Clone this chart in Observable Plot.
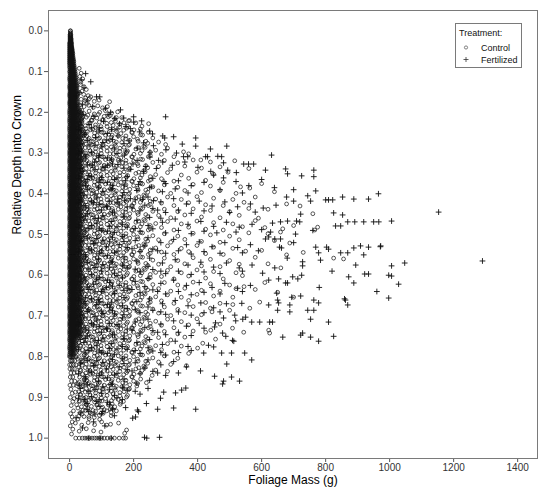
<!DOCTYPE html>
<html>
<head>
<meta charset="utf-8">
<script src="https://cdn.jsdelivr.net/npm/d3@7"></script>
<script src="https://cdn.jsdelivr.net/npm/@observablehq/plot@0.6"></script>
<style>
  html, body { margin: 0; padding: 0; background: white; }
  #wrap { position: relative; width: 550px; height: 496px; }
  #legend { position: absolute; left: 0; top: 0; }
</style>
</head>
<body>
<div id="wrap"></div>
<script>
const xTicks = [0, 200, 400, 600, 800, 1000, 1200, 1400];
const yTicks = [0, 0.1, 0.2, 0.3, 0.4, 0.5, 0.6, 0.7, 0.8, 0.9, 1.0];
const treatments = ["Control", "Fertilized"];

// Control: near-zero-mass stem column, read as mass spreads per depth
const stemA = [0,2,4,6,8,10,12,14,16,19,22,26,30,35];
const stemB = [1,3,5,7,9,11,13,15,18,21,24,28,33];
const stemC = [0,3,6,9,12,15,18,22,27,32,38];
const controlStem = [
[0.00,[2,3]],[0.005,[2,3]],[0.01,[1,2,3,4]],[0.015,[1,2,3,4]],[0.02,[1,2,3,4,5]],[0.025,[1,2,3,4,5]],[0.03,[0,1,2,3,4,5,6]],[0.035,[0,1,2,3,4,5,6]],[0.04,[0,1,2,3,4,5,6,7]],
[0.045,[0,1,2,3,4,5,6,7,8]],[0.05,[0,1,2,3,4,5,6,7,9]],[0.055,[0,1,2,3,4,5,6,8,10]],[0.06,[0,1,2,3,4,5,6,7,8,10]],[0.065,[0,1,2,3,4,5,7,9,11]],[0.07,[0,1,2,3,4,5,6,8,10,12]],
[0.075,[0,1,2,3,5,7,9,11,13]],[0.08,[0,1,2,4,5,6,8,10,13]],[0.085,[0,2,4,6,8,10,12,14]],[0.09,[0,2,4,6,8,10,12,15]],[0.095,[1,3,5,7,9,11,13,16]],[0.10,[0,2,4,6,8,10,12,14,17]],
[0.105,[1,3,5,7,9,11,13,15,18]],[0.11,[1,3,5,7,9,11,13,15,18]],[0.115,[0,2,4,6,8,10,12,14,17,20]],[0.12,[0,2,4,6,8,10,12,14,17,20]],[0.125,[1,3,5,7,9,11,13,15,18,21]],[0.13,[1,3,5,7,9,11,13,15,18,21]],
[0.135,[0,2,4,6,8,10,12,14,17,20,23]],[0.14,[0,2,4,6,8,10,12,14,17,20,23]],[0.145,[1,3,5,7,9,11,13,16,19,22]],[0.15,[1,3,5,7,9,11,13,16,19,22]],[0.155,[0,2,4,6,8,10,12,14,17,21,24]],[0.16,[0,2,4,6,8,10,12,14,17,21,24]],
[0.165,[1,3,5,7,9,11,13,16,19,23]],[0.17,[1,3,5,7,9,11,13,16,19,23]],[0.175,[0,2,4,6,8,10,12,14,17,21,25]],[0.18,[0,2,4,6,8,10,12,14,17,21,25]],[0.185,[1,3,5,7,9,11,13,16,19,23,27]],[0.19,[1,3,5,7,9,11,13,16,19,23,27]],[0.195,stemC],
[0.20,stemA],[0.205,stemC],[0.21,stemB],[0.215,stemC],[0.22,stemA],[0.225,stemC],[0.23,stemB],[0.235,stemC],[0.24,stemA],[0.245,stemC],
[0.25,stemB],[0.255,stemC],[0.26,stemA],[0.265,stemC],[0.27,stemB],[0.275,stemC],[0.28,stemA],[0.285,stemC],[0.29,stemB],[0.295,stemC],
[0.30,stemA],[0.305,stemC],[0.31,stemB],[0.315,stemC],[0.32,stemA],[0.325,stemC],[0.33,stemB],[0.335,stemC],[0.34,stemA],[0.345,stemC],
[0.35,stemB],[0.355,stemC],[0.36,stemA],[0.365,stemC],[0.37,stemB],[0.375,stemC],[0.38,stemA],[0.385,stemC],[0.39,stemB],[0.395,stemC],
[0.40,stemA],[0.405,stemC],[0.41,stemB],[0.415,stemC],[0.42,stemA],[0.425,stemC],[0.43,stemB],[0.435,stemC],[0.44,stemA],[0.445,stemC],
[0.45,stemB],[0.455,stemC],[0.46,stemA],[0.465,stemC],[0.47,stemB],[0.475,stemC],[0.48,stemA],[0.485,stemC],[0.49,stemB],[0.495,stemC],
[0.50,stemA],[0.505,stemC],[0.51,stemB],[0.515,stemC],[0.52,stemA],[0.525,stemC],[0.53,stemB],[0.535,stemC],[0.54,stemA],[0.545,stemC],
[0.55,stemB],[0.555,stemC],[0.56,stemA],[0.565,stemC],[0.57,stemB],[0.575,stemC],[0.58,stemA],[0.585,stemC],[0.59,stemB],[0.595,stemC],
[0.60,stemA],[0.605,stemC],[0.61,stemB],[0.615,stemC],[0.62,stemA],[0.625,stemC],[0.63,stemB],[0.635,stemC],[0.64,stemA],[0.645,stemC],
[0.65,stemB],[0.655,stemC],[0.66,stemA],[0.665,stemC],[0.67,stemB],[0.675,stemC],[0.68,stemA],[0.685,stemC],[0.69,stemB],[0.695,stemC],
[0.70,stemA],[0.705,stemC],[0.71,stemB],[0.715,stemC],[0.72,stemA],[0.725,stemC],[0.73,stemB],[0.735,stemC],[0.74,stemA],[0.745,stemC],[0.75,stemB],
[0.755,[0,3,6,9,13,18,24]],[0.76,[0,2,4,6,8,10,13,17,22]],[0.765,[1,4,7,11,15,20]],[0.77,[1,3,5,7,9,12,15,20]],[0.775,[0,3,6,10,14,19]],
[0.78,[0,2,4,6,9,12,16,21]],[0.785,[1,4,8,12,17]],[0.79,[1,3,5,8,11,15,19]],[0.795,[0,4,9,14]],
[0.80,[0,2,5,8,11,15,20]],[0.81,[2,6,9,16]],[0.82,[0,5,12,20]],[0.83,[1,8,15]],[0.84,[4,14]],[0.85,[2,10]],[0.86,[6,16]],
[0.87,[1,12]],[0.88,[4]],[0.89,[8]],[0.90,[2]],[0.91,[10]],[0.92,[5]],[0.94,[3]],[0.96,[8]],[0.97,[2]],[0.99,[6]]
];

// Control: main cloud — [mass g, relative depth]
const controlCloud = [
[30,.092],[36,.104],[32,.112],[41,.118],[35,.126],[34,.132],[45,.137],[52,.144],[39,.148],
[31,.152],[44,.156],[58,.159],[66,.162],[50,.165],[36,.168],[48,.171],[62,.166],[77,.173],[92,.17],[125,.174],[55,.178],
[32,.182],[45,.186],[60,.183],[74,.188],[88,.184],[103,.189],[118,.186],
[30,.198],[45,.203],[61,.197],[77,.204],[94,.2],[112,.196],[131,.202],[150,.199],
[37,.217],[52,.212],[68,.219],[85,.214],[103,.218],[121,.211],[141,.216],[163,.213],[187,.22],
[33,.228],[49,.233],[64,.226],[81,.231],[98,.235],[116,.227],[136,.232],[157,.229],[181,.234],[207,.226],[247,.228],
[40,.243],[55,.248],[72,.241],[89,.246],[107,.25],[126,.242],[147,.247],[169,.244],[194,.249],[221,.241],
[30,.262],[45,.257],[61,.264],[77,.259],[94,.263],[112,.256],[131,.261],[152,.258],[175,.265],[200,.26],[228,.256],[260,.263],
[37,.273],[52,.278],[68,.271],[85,.276],[103,.28],[121,.272],[141,.277],[163,.274],[187,.279],[214,.271],[244,.276],[278,.273],[300,.279],
[33,.292],[49,.287],[64,.294],[81,.289],[98,.293],[116,.286],[136,.291],[157,.288],[181,.295],[207,.29],[236,.286],[269,.293],[306,.288],[356,.297],
[40,.303],[55,.308],[72,.301],[89,.306],[107,.31],[126,.302],[147,.307],[169,.304],[194,.309],[221,.301],[252,.306],[287,.303],[326,.309],[372,.302],[410,.317],
[30,.322],[45,.317],[61,.324],[77,.319],[94,.323],[112,.316],[131,.321],[152,.318],[175,.325],[200,.32],[228,.316],[260,.323],[296,.318],[338,.324],[386,.317],[440,.322],[516,.319],
[37,.333],[52,.338],[68,.331],[85,.336],[103,.34],[121,.332],[141,.337],[163,.334],[187,.339],[214,.331],[244,.336],[278,.333],[316,.339],[360,.332],[412,.337],[470,.334],[560,.338],
[33,.352],[49,.347],[64,.354],[81,.349],[98,.353],[116,.346],[136,.351],[157,.348],[181,.355],[207,.35],[236,.346],[269,.353],[306,.348],[349,.354],[398,.347],[450,.352],[495,.347],
[40,.363],[55,.368],[72,.361],[89,.366],[107,.37],[126,.362],[147,.367],[169,.364],[194,.369],[221,.361],[252,.366],[287,.363],[326,.369],[372,.362],[425,.367],[480,.372],[600,.375],
[30,.382],[45,.377],[61,.384],[77,.379],[94,.383],[112,.376],[131,.381],[152,.378],[175,.385],[200,.38],[228,.376],[260,.383],[296,.378],[338,.384],[386,.377],[440,.381],[534,.383],[563,.386],
[37,.393],[52,.398],[68,.391],[85,.396],[103,.4],[121,.392],[141,.397],[163,.394],[187,.399],[214,.391],[244,.396],[278,.393],[316,.399],[360,.392],[412,.397],[470,.392],[520,.399],[640,.395],
[33,.412],[49,.407],[64,.414],[81,.409],[98,.413],[116,.406],[136,.411],[157,.408],[181,.415],[207,.41],[236,.406],[269,.413],[306,.408],[349,.414],[398,.407],[450,.411],[510,.414],[580,.408],
[40,.423],[55,.428],[72,.421],[89,.426],[107,.43],[126,.422],[147,.427],[169,.424],[194,.429],[221,.421],[252,.426],[287,.423],[326,.429],[372,.422],[425,.427],[480,.429],[545,.421],[678,.425],[720,.43],
[30,.442],[45,.437],[61,.444],[77,.439],[94,.443],[112,.436],[131,.441],[152,.438],[175,.445],[200,.44],[228,.436],[260,.443],[296,.438],[338,.444],[386,.437],[440,.441],[500,.444],[560,.436],[620,.438],
[37,.453],[52,.458],[68,.451],[85,.456],[103,.46],[121,.452],[141,.457],[163,.454],[187,.459],[214,.451],[244,.456],[278,.453],[316,.459],[360,.452],[412,.457],[470,.459],[530,.453],[590,.46],[760,.449],
[33,.472],[49,.467],[64,.474],[81,.469],[98,.473],[116,.466],[136,.471],[157,.468],[181,.475],[207,.47],[236,.466],[269,.473],[306,.468],[349,.474],[398,.467],[450,.471],[510,.474],[580,.466],[700,.478],
[40,.483],[55,.488],[72,.481],[89,.486],[107,.49],[126,.482],[147,.487],[169,.484],[194,.489],[221,.481],[252,.486],[287,.483],[326,.489],[372,.482],[425,.487],[480,.489],[540,.481],[610,.483],[666,.486],[659,.494],[766,.489],[775,.482],
[30,.502],[45,.497],[61,.504],[77,.499],[94,.503],[112,.496],[131,.501],[152,.498],[175,.505],[200,.5],[228,.496],[260,.503],[296,.498],[338,.504],[386,.497],[440,.501],[500,.504],[560,.496],[620,.498],
[37,.513],[52,.518],[68,.511],[85,.516],[103,.52],[121,.512],[141,.517],[163,.514],[187,.519],[214,.511],[244,.516],[278,.513],[316,.519],[360,.512],[412,.517],[470,.519],[530,.513],[640,.515],[688,.521],
[33,.532],[49,.527],[64,.534],[81,.529],[98,.533],[116,.526],[136,.531],[157,.528],[181,.535],[207,.53],[236,.526],[269,.533],[306,.528],[349,.534],[398,.527],[450,.531],[510,.534],[600,.539],
[40,.543],[55,.548],[72,.541],[89,.546],[107,.55],[126,.542],[147,.547],[169,.544],[194,.549],[221,.541],[252,.546],[287,.543],[326,.549],[372,.542],[425,.547],[480,.549],[550,.541],[678,.55],[730,.544],
[30,.562],[45,.557],[61,.564],[77,.559],[94,.563],[112,.556],[131,.561],[152,.558],[175,.565],[200,.56],[228,.556],[260,.563],[296,.558],[338,.564],[386,.557],[440,.561],[500,.564],[580,.556],[825,.558],[856,.56],
[37,.573],[52,.578],[68,.571],[85,.576],[103,.58],[121,.572],[141,.577],[163,.574],[187,.579],[214,.571],[244,.576],[278,.573],[316,.579],[360,.572],[412,.577],[470,.579],[530,.573],[620,.572],
[33,.592],[49,.587],[64,.594],[81,.589],[98,.593],[116,.586],[136,.591],[157,.588],[181,.595],[207,.59],[236,.586],[269,.593],[306,.588],[349,.594],[398,.587],[450,.591],[520,.594],[660,.582],
[40,.603],[55,.608],[72,.601],[89,.606],[107,.61],[126,.602],[147,.607],[169,.604],[194,.609],[221,.601],[252,.606],[287,.603],[326,.609],[372,.602],[425,.607],[480,.609],[540,.601],[610,.618],
[30,.622],[45,.617],[61,.624],[77,.619],[94,.623],[112,.616],[131,.621],[152,.618],[175,.625],[200,.62],[228,.616],[260,.623],[296,.618],[338,.624],[386,.617],[440,.621],[500,.624],[545,.628],
[37,.633],[52,.638],[68,.631],[85,.636],[103,.64],[121,.632],[141,.637],[163,.634],[187,.639],[214,.631],[244,.636],[278,.633],[316,.639],[360,.632],[412,.637],[470,.639],[520,.633],[580,.635],[650,.642],
[33,.652],[49,.647],[64,.654],[81,.649],[98,.653],[116,.646],[136,.651],[157,.648],[181,.655],[207,.65],[236,.646],[269,.653],[306,.648],[349,.654],[398,.647],[450,.651],[510,.654],[594,.666],[700,.654],
[40,.663],[55,.668],[72,.661],[89,.666],[107,.67],[126,.662],[147,.667],[169,.664],[194,.669],[221,.661],[252,.666],[287,.663],[326,.669],[372,.662],[425,.667],[470,.669],[510,.672],
[30,.682],[45,.677],[61,.684],[77,.679],[94,.683],[112,.676],[131,.681],[152,.678],[175,.685],[200,.68],[228,.676],[260,.683],[296,.678],[338,.684],[386,.677],[440,.681],[500,.686],[563,.681],
[37,.693],[52,.698],[68,.691],[85,.696],[103,.7],[121,.692],[141,.697],[163,.694],[187,.699],[214,.691],[244,.696],[278,.693],[316,.699],[360,.692],[412,.697],[445,.69],
[33,.712],[49,.707],[64,.714],[81,.709],[98,.713],[116,.706],[136,.711],[157,.708],[181,.715],[207,.71],[236,.706],[269,.713],[306,.708],[349,.714],[398,.707],[470,.72],
[40,.723],[55,.728],[72,.721],[89,.726],[107,.73],[126,.722],[147,.727],[169,.724],[194,.729],[221,.721],[252,.726],[287,.723],[326,.729],[372,.722],[509,.73],
[30,.742],[45,.737],[61,.744],[77,.739],[94,.743],[112,.736],[131,.741],[152,.738],[175,.745],[200,.74],[228,.736],[260,.743],[296,.738],[338,.744],[386,.737],[425,.74],[441,.735],[544,.74],[622,.735],[625,.742],
[37,.753],[52,.758],[68,.751],[85,.756],[103,.76],[121,.752],[141,.757],[163,.754],[187,.759],[214,.751],[244,.756],[278,.753],[316,.759],[360,.752],[416,.767],[456,.757],
[33,.772],[49,.767],[64,.774],[81,.769],[98,.773],[116,.766],[136,.771],[157,.768],[181,.775],[207,.77],[236,.766],[269,.773],[306,.768],[349,.774],[400,.779],
[40,.783],[55,.788],[72,.781],[89,.786],[107,.79],[126,.782],[147,.787],[169,.784],[194,.789],[221,.781],[252,.786],[287,.783],[326,.789],[372,.792],
[30,.802],[45,.797],[61,.804],[77,.799],[94,.803],[112,.796],[131,.801],[152,.798],[175,.805],[200,.8],[228,.796],[260,.803],[296,.798],[338,.804],
[37,.813],[52,.818],[68,.811],[85,.816],[103,.82],[121,.812],[141,.817],[163,.814],[187,.819],[214,.811],[244,.816],[278,.813],[316,.819],[365,.822],
[33,.832],[49,.827],[64,.834],[81,.829],[98,.833],[116,.826],[136,.831],[157,.828],[181,.835],[207,.83],[236,.826],[269,.833],[306,.836],
[40,.843],[55,.848],[72,.841],[89,.846],[107,.85],[126,.842],[147,.847],[169,.844],[194,.849],[221,.841],[258,.846],
[30,.862],[45,.857],[61,.864],[77,.859],[94,.863],[112,.856],[131,.861],[152,.858],[175,.865],[200,.86],[240,.864],
[22,.871],[37,.873],[52,.878],[68,.871],[85,.876],[103,.88],[121,.872],[141,.877],[163,.874],[187,.879],[210,.872],
[18,.887],[33,.892],[49,.887],[64,.894],[81,.889],[98,.893],[116,.886],[136,.891],[157,.888],[181,.895],
[14,.903],[30,.908],[45,.902],[61,.907],[77,.904],[94,.909],[112,.903],[131,.908],[152,.905],[168,.91],
[22,.918],[37,.923],[52,.917],[68,.922],[85,.919],[103,.924],[121,.918],[141,.923],[158,.917],
[12,.933],[33,.938],[49,.932],[64,.937],[81,.934],[98,.939],[116,.933],[130,.937],
[8,.948],[26,.953],[45,.947],[61,.952],[77,.949],[94,.954],[153,.963],
[18,.963],[38,.968],[58,.962],[78,.967],[100,.96],[116,.968],[128,.966],
[10,.978],[30,.983],[52,.977],[75,.982],[98,.985],[178,.98],[172,.988],
[19,1],[30,1],[40,1],[48,1],[55,1],[62,1],[70,1],[78,1],[85,1],[92,1],[100,1],[108,1],[118,1],[128,1],[140,1],[155,1],[168,1],[175,1]
];

// Control: extra points in the densest part of the cloud — [mass g, relative depth]
const controlDense = [
[26,.206],[42,.211],[57,.207],[73,.212],[90,.205],[108,.21],[127,.208],[146,.213],
[29,.226],[39,.221],[60,.227],[70,.22],[93,.224],[105,.219],[130,.225],[143,.222],[170,.226],[184,.221],
[24,.239],[35,.234],[51,.24],[66,.243],[81,.237],[99,.241],[117,.235],[137,.242],[157,.236],[178,.239],[201,.243],[226,.234],
[31,.25],[47,.255],[53,.258],[78,.251],[86,.257],[101,.249],[122,.254],[133,.256],[160,.252],[176,.258],[196,.25],[222,.255],[246,.249],
[26,.266],[42,.271],[57,.267],[73,.272],[90,.265],[108,.27],[127,.268],[146,.273],[166,.264],[188,.269],[212,.266],[238,.271],
[29,.286],[39,.281],[60,.287],[70,.28],[93,.284],[105,.279],[130,.285],[143,.282],[170,.286],[184,.281],[216,.287],[232,.283],
[24,.299],[35,.294],[51,.3],[66,.303],[81,.297],[99,.301],[117,.295],[137,.302],[157,.296],[178,.299],[201,.303],[226,.294],[252,.298],
[31,.31],[47,.315],[53,.318],[78,.311],[86,.317],[101,.309],[122,.314],[133,.316],[160,.312],[176,.318],[196,.31],[222,.315],[246,.309],
[26,.326],[42,.331],[57,.327],[73,.332],[90,.325],[108,.33],[127,.328],[146,.333],[166,.324],[188,.329],[212,.326],[238,.331],
[29,.346],[39,.341],[60,.347],[70,.34],[93,.344],[105,.339],[130,.345],[143,.342],[170,.346],[184,.341],[216,.347],[232,.343],
[24,.359],[35,.354],[51,.36],[66,.363],[81,.357],[99,.361],[117,.355],[137,.362],[157,.356],[178,.359],[201,.363],[226,.354],[252,.358],
[31,.37],[47,.375],[53,.378],[78,.371],[86,.377],[101,.369],[122,.374],[133,.376],[160,.372],[176,.378],[196,.37],[222,.375],[246,.369],
[26,.386],[42,.391],[57,.387],[73,.392],[90,.385],[108,.39],[127,.388],[146,.393],[166,.384],[188,.389],[212,.386],[238,.391],
[29,.406],[39,.401],[60,.407],[70,.4],[93,.404],[105,.399],[130,.405],[143,.402],[170,.406],[184,.401],[216,.407],[232,.403],
[24,.419],[35,.414],[51,.42],[66,.423],[81,.417],[99,.421],[117,.415],[137,.422],[157,.416],[178,.419],[201,.423],[226,.414],[252,.418],
[31,.43],[47,.435],[53,.438],[78,.431],[86,.437],[101,.429],[122,.434],[133,.436],[160,.432],[176,.438],[196,.43],[222,.435],[246,.429],
[26,.446],[42,.451],[57,.447],[73,.452],[90,.445],[108,.45],[127,.448],[146,.453],[166,.444],[188,.449],[212,.446],[238,.451],
[29,.466],[39,.461],[60,.467],[70,.46],[93,.464],[105,.459],[130,.465],[143,.462],[170,.466],[184,.461],[216,.467],[232,.463],
[24,.479],[35,.474],[51,.48],[66,.483],[81,.477],[99,.481],[117,.475],[137,.482],[157,.476],[178,.479],[201,.483],[226,.474],[252,.478],
[31,.49],[47,.495],[53,.498],[78,.491],[86,.497],[101,.489],[122,.494],[133,.496],[160,.492],[176,.498],[196,.49],[222,.495],[246,.489],
[26,.506],[42,.511],[57,.507],[73,.512],[90,.505],[108,.51],[127,.508],[146,.513],[166,.504],[188,.509],[212,.506],[238,.511],
[29,.526],[39,.521],[60,.527],[70,.52],[93,.524],[105,.519],[130,.525],[143,.522],[170,.526],[184,.521],[216,.527],[232,.523],
[24,.539],[35,.534],[51,.54],[66,.543],[81,.537],[99,.541],[117,.535],[137,.542],[157,.536],[178,.539],[201,.543],[226,.534],[252,.538],
[31,.55],[47,.555],[53,.558],[78,.551],[86,.557],[101,.549],[122,.554],[133,.556],[160,.552],[176,.558],[196,.55],[222,.555],[246,.549],
[26,.566],[42,.571],[57,.567],[73,.572],[90,.565],[108,.57],[127,.568],[146,.573],[166,.564],[188,.569],[212,.566],[238,.571],
[29,.586],[39,.581],[60,.587],[70,.58],[93,.584],[105,.579],[130,.585],[143,.582],[170,.586],[184,.581],[216,.587],[232,.583],
[24,.599],[35,.594],[51,.6],[66,.603],[81,.597],[99,.601],[117,.595],[137,.602],[157,.596],[178,.599],[201,.603],[226,.594],[252,.598],
[31,.61],[47,.615],[53,.618],[78,.611],[86,.617],[101,.609],[122,.614],[133,.616],[160,.612],[176,.618],[196,.61],[222,.615],[246,.609],
[26,.626],[42,.631],[57,.627],[73,.632],[90,.625],[108,.63],[127,.628],[146,.633],[166,.624],[188,.629],[212,.626],[238,.631],
[29,.646],[39,.641],[60,.647],[70,.64],[93,.644],[105,.639],[130,.645],[143,.642],[170,.646],[184,.641],[216,.647],[232,.643],
[24,.659],[35,.654],[51,.66],[66,.663],[81,.657],[99,.661],[117,.655],[137,.662],[157,.656],[178,.659],[201,.663],[226,.654],[252,.658],
[31,.67],[47,.675],[53,.678],[78,.671],[86,.677],[101,.669],[122,.674],[133,.676],[160,.672],[176,.678],[196,.67],[222,.675],[246,.669],
[26,.686],[42,.691],[57,.687],[73,.692],[90,.685],[108,.69],[127,.688],[146,.693],[166,.684],[188,.689],[212,.686],[238,.691],
[29,.706],[39,.701],[60,.707],[70,.7],[93,.704],[105,.699],[130,.705],[143,.702],[170,.706],[184,.701],[216,.707],[232,.703],
[24,.719],[35,.714],[51,.72],[66,.723],[81,.717],[99,.721],[117,.715],[137,.722],[157,.716],[178,.719],[201,.723],[226,.714],[252,.718],
[31,.73],[47,.735],[53,.738],[78,.731],[86,.737],[101,.729],[122,.734],[133,.736],[160,.732],[176,.738],[196,.73],[222,.735],[246,.729],
[26,.746],[42,.751],[57,.747],[73,.752],[90,.745],[108,.75],[127,.748],[146,.753],[166,.744],[188,.749],[212,.746],[238,.751],
[29,.766],[39,.761],[60,.767],[70,.76],[93,.764],[105,.759],[130,.765],[143,.762],[170,.766],[184,.761],[216,.767],[232,.763],
[24,.779],[35,.774],[51,.78],[66,.783],[81,.777],[99,.781],[117,.775],[137,.782],[157,.776],[178,.779],[201,.783],[226,.774],[252,.778],
[31,.79],[47,.795],[53,.798],[78,.791],[86,.797],[101,.789],[122,.794],[133,.796],[160,.792],[176,.798],[196,.79],[222,.795],[246,.789],
[26,.806],[42,.811],[57,.807],[73,.812],[90,.805],[108,.81],[127,.808],[146,.813],[166,.804],[188,.809],[212,.806],[238,.811],
[29,.826],[39,.821],[60,.827],[70,.82],[93,.824],[105,.819],[130,.825],[143,.822],[170,.826],[184,.821],[216,.827],[232,.823],
[24,.839],[35,.834],[51,.84],[66,.843],[81,.837],[99,.841],[117,.835],[137,.842],[157,.836],[178,.839],[201,.843],[226,.834],
[31,.85],[47,.855],[53,.858],[78,.851],[86,.857],[101,.849],[122,.854],[133,.856],[160,.852],[176,.858],[196,.85],[222,.855],
[26,.866],[42,.871],[57,.867],[73,.872],[90,.865],[108,.87],[127,.868],[146,.873],[166,.864],[188,.869],[212,.866],
[29,.886],[39,.881],[60,.887],[70,.88],[93,.884],[105,.879],[130,.885],[143,.882],[170,.886],[184,.881],
[24,.899],[35,.894],[51,.9],[66,.903],[81,.897],[99,.901],[117,.895],[137,.902],[157,.896],[178,.899],
[31,.91],[47,.915],[53,.918],[78,.911],[86,.917],[101,.909],[122,.914],[133,.916],[160,.912],
[26,.926],[42,.931],[57,.927],[73,.932],[90,.925],[108,.93],[127,.928],[146,.933],
[29,.946],[39,.941],[60,.947],[70,.94],[93,.944],[105,.939],[130,.945]
];

// Fertilized — [mass g, relative depth]
const fertilized = [
[50,.105],[36,.12],[66,.125],[45,.14],[30,.152],[22,.16],[84,.162],[94,.162],[55,.172],[40,.18],[72,.186],[112,.19],[159,.194],[128,.2],
[120,.205],[42,.205],[76,.21],[169,.214],[200,.211],[300,.211],[141,.215],[106,.222],[200,.224],[225,.221],[156,.228],[61,.23],[176,.235],[92,.238],[190,.24],[131,.242],[35,.245],[219,.248],[250,.246],[259,.253],
[46,.255],[151,.258],[291,.258],[81,.262],[297,.263],[325,.26],[394,.263],[116,.268],[186,.27],[231,.275],[352,.278],[61,.28],[262,.282],[394,.283],[491,.283],[101,.285],[211,.288],[141,.29],[440,.29],[301,.292],[176,.295],[38,.295],[251,.298],
[334,.3],[356,.309],[369,.309],[425,.309],[431,.309],[463,.308],[475,.309],[481,.324],[494,.342],[631,.305],[544,.327],[559,.327],[575,.327],[612,.342],[675,.339],[763,.342],
[51,.305],[91,.31],[131,.315],[171,.305],[211,.318],[251,.31],[291,.322],[321,.33],[71,.33],[111,.335],[151,.328],[191,.34],[231,.345],[271,.338],[401,.335],[441,.345],[521,.348],[41,.345],[360,.322],
[681,.351],[725,.356],[763,.358],[769,.393],[450,.354],[481,.361],[60,.355],[100,.36],[140,.365],[180,.358],[220,.37],[260,.362],[300,.375],[340,.368],[380,.38],[420,.372],[520,.37],[560,.38],[600,.365],[640,.385],
[50,.38],[90,.385],[130,.39],[170,.378],[210,.392],[250,.385],[290,.395],[330,.388],[370,.398],[470,.39],[700,.39],[540,.398],
[965,.4],[744,.405],[45,.405],[165,.405],[678,.408],[245,.408],[853,.408],[85,.41],[325,.412],[888,.413],[934,.413],[205,.415],[800,.415],[809,.415],[822,.415],[125,.418],[405,.418],[753,.418],[700,.418],[285,.42],[485,.42],
[150,.413],[172,.416],[190,.412],[228,.414],[262,.417],
[365,.425],[565,.425],[645,.428],[445,.43],[525,.432],[180,.432],[605,.435],[60,.435],[260,.436],[100,.44],[340,.44],[220,.442],[420,.442],[1153,.445],[140,.445],[580,.445],[300,.446],[500,.446],[825,.447],[380,.448],[722,.45],[853,.452],
[831,.479],[847,.479],[869,.469],[891,.469],[919,.469],[950,.469],[966,.469],[1006,.467],[709,.467],[681,.467],[634,.472],[659,.469],[719,.469],[628,.494],[706,.499],
[50,.455],[90,.46],[130,.468],[170,.455],[210,.465],[250,.458],[290,.47],[330,.462],[370,.475],[410,.468],[450,.48],[490,.47],[530,.482],[570,.475],[600,.488],
[60,.485],[100,.49],[140,.495],[180,.482],[220,.492],[260,.486],[300,.496],[340,.49],[380,.498],[420,.492],[460,.496],[520,.494],[760,.49],
[641,.511],[659,.511],[622,.506],[612,.511],[656,.531],[662,.533],[769,.531],[803,.531],[809,.536],[778,.545],[847,.545],[869,.545],[888,.533],[909,.528],[934,.531],[972,.528],[919,.55],[971,.53],
[45,.505],[85,.51],[125,.518],[165,.505],[205,.515],[245,.508],[285,.52],[325,.512],[365,.525],[405,.518],[445,.53],[485,.52],[525,.532],[565,.525],[700,.52],
[60,.535],[100,.54],[140,.545],[180,.532],[220,.542],[260,.536],[300,.546],[340,.54],[380,.548],[420,.542],[470,.546],[540,.545],[590,.54],
[784,.563],[894,.575],[728,.567],[728,.577],[641,.582],[603,.595],[1006,.577],[1047,.57],[1290,.565],[997,.6],[922,.597],[934,.597],
[50,.555],[90,.56],[130,.568],[170,.555],[210,.565],[250,.558],[290,.57],[330,.562],[370,.575],[410,.568],[450,.58],[490,.57],[530,.582],[570,.575],[680,.558],
[60,.585],[100,.59],[140,.595],[180,.582],[220,.592],[260,.586],[300,.596],[340,.59],[380,.598],[420,.592],[470,.596],[540,.59],[820,.59],
[872,.604],[888,.619],[1028,.622],[1006,.602],[725,.6],[713,.609],[697,.604],[653,.609],[622,.612],[675,.619],[681,.619],[647,.644],
[45,.605],[85,.61],[125,.618],[165,.605],[205,.615],[245,.608],[285,.62],[325,.612],[365,.625],[405,.618],[445,.63],[485,.62],[525,.632],[565,.625],[780,.63],
[60,.635],[100,.64],[140,.645],[180,.632],[220,.642],[260,.636],[300,.646],[340,.64],[380,.648],[420,.642],[470,.646],[540,.64],[960,.64],
[997,.656],[859,.658],[869,.673],[722,.651],[694,.654],[763,.661],[778,.668],[744,.686],[763,.686],[688,.673],[688,.69],[650,.661],[653,.668],[538,.669],[622,.673],[862,.661],[650,.686],[516,.698],
[50,.655],[90,.66],[130,.668],[170,.655],[210,.665],[250,.658],[290,.67],[330,.662],[370,.675],[410,.668],[450,.68],[490,.67],
[60,.685],[100,.69],[140,.695],[180,.682],[220,.692],[260,.686],[300,.696],[340,.69],[380,.698],[420,.692],[470,.69],
[753,.708],[809,.715],[728,.742],[722,.747],[753,.752],[825,.75],[666,.752],[456,.717],[453,.727],[481,.705],[519,.712],[541,.708],[550,.703],[569,.715],[594,.715],[625,.715],[634,.715],[478,.742],[488,.75],
[45,.705],[85,.71],[125,.718],[165,.705],[205,.715],[245,.708],[285,.72],[325,.712],[365,.725],[405,.718],
[60,.735],[100,.74],[140,.745],[180,.732],[220,.742],[260,.736],[300,.746],[340,.74],[380,.748],[420,.73],
[778,.762],[509,.76],[513,.762],[434,.772],[450,.776],[419,.791],[475,.791],[506,.791],[547,.791],
[50,.755],[90,.76],[130,.768],[170,.755],[210,.765],[250,.758],[290,.77],[330,.762],[370,.775],
[60,.785],[100,.79],[140,.795],[180,.782],[220,.792],[260,.786],[300,.796],[340,.79],[380,.785],
[569,.808],[491,.818],[409,.835],[453,.848],[506,.85],
[45,.805],[85,.81],[125,.818],[165,.805],[205,.815],[245,.808],[285,.82],[325,.812],[365,.825],
[60,.835],[100,.84],[140,.845],[180,.832],[220,.842],[260,.836],[300,.846],[340,.84],
[481,.86],[531,.86],[478,.867],[363,.877],[350,.882],[331,.889],[294,.887],[284,.902],
[50,.855],[90,.86],[130,.868],[170,.855],[210,.865],[250,.858],[60,.885],[100,.89],[140,.895],[180,.882],[220,.892],[30,.87],
[394,.929],[325,.926],[275,.929],[212,.931],[206,.948],[197,.951],[45,.905],[85,.91],[125,.918],[165,.905],[240,.915],
[60,.935],[100,.94],[140,.945],[20,.95],[75,.96],[110,.97],[40,.975],[281,.998],[234,.998],[241,1.0],[60,1.0],[95,1.0],[130,1.0],
[35,.315],[78,.322],[118,.33],[158,.319],[198,.327],[238,.333],[278,.318],
[55,.365],[95,.372],[135,.38],[175,.368],[215,.377],[255,.383],[295,.37],
[35,.415],[75,.422],[115,.43],[155,.425],[195,.435],[235,.428],[275,.44],
[45,.465],[85,.472],[125,.48],[165,.475],[205,.485],[245,.478],[285,.46],
[35,.515],[75,.522],[115,.53],[155,.525],[195,.535],[235,.528],[275,.54],
[45,.565],[85,.572],[125,.58],[165,.575],[205,.585],[245,.578],[285,.59],
[35,.615],[75,.622],[115,.63],[155,.625],[195,.635],[235,.628],[275,.64],
[45,.665],[85,.672],[125,.68],[165,.675],[205,.685],[245,.678],[285,.69],
[35,.715],[75,.722],[115,.73],[155,.725],[195,.735],[235,.728],[275,.74],
[45,.765],[85,.772],[125,.78],[165,.775],[205,.785],[245,.778],[285,.79],
[35,.815],[75,.822],[115,.83],[155,.825],[195,.835],[235,.828],[275,.84],
[45,.865],[85,.872],[125,.88],[165,.875],[205,.885],[245,.878],
[55,.915],[95,.922],[135,.93],[175,.925],[215,.935]
];

// Fertilized: extra points mixed into the dense zone beside the stem — [mass g, relative depth]
const fertilizedDense = [
[28,.242],[48,.249],[68,.238],[92,.246],[118,.252],[148,.241],
[33,.278],[55,.269],[79,.281],[104,.274],[134,.267],[170,.277],
[28,.302],[48,.309],[68,.298],[92,.306],[118,.312],[148,.301],
[33,.338],[55,.329],[79,.341],[104,.334],[134,.327],[170,.337],
[28,.362],[48,.369],[68,.358],[92,.366],[118,.372],[148,.361],
[33,.398],[55,.389],[79,.401],[104,.394],[134,.387],[170,.397],
[28,.422],[48,.429],[68,.418],[92,.426],[118,.432],[148,.421],
[33,.458],[55,.449],[79,.461],[104,.454],[134,.447],[170,.457],
[28,.482],[48,.489],[68,.478],[92,.486],[118,.492],[148,.481],
[33,.518],[55,.509],[79,.521],[104,.514],[134,.507],[170,.517],
[28,.542],[48,.549],[68,.538],[92,.546],[118,.552],[148,.541],
[33,.578],[55,.569],[79,.581],[104,.574],[134,.567],[170,.577],
[28,.602],[48,.609],[68,.598],[92,.606],[118,.612],[148,.601],
[33,.638],[55,.629],[79,.641],[104,.634],[134,.627],[170,.637],
[28,.662],[48,.669],[68,.658],[92,.666],[118,.672],[148,.661],
[33,.698],[55,.689],[79,.701],[104,.694],[134,.687],[170,.697],
[28,.722],[48,.729],[68,.718],[92,.726],[118,.732],[148,.721],
[33,.758],[55,.749],[79,.761],[104,.754],[134,.747],[170,.757],
[28,.782],[48,.789],[68,.778],[92,.786],[118,.792],[148,.781],
[33,.818],[55,.809],[79,.821],[104,.814],[134,.807],[170,.817],
[28,.842],[48,.849],[68,.838],[92,.846],[118,.852],[148,.841],
[33,.878],[55,.869],[79,.881],[104,.874],[134,.867],[170,.877],
[28,.902],[48,.909],[68,.898],[92,.906],[118,.912],[148,.901],
[33,.938],[55,.929],[79,.941],[104,.934],[134,.927]
];

const controlPts = controlStem.flatMap(([depth, masses]) => masses.map(m => ({mass: m, depth})))
  .concat(controlCloud.map(([m, d]) => ({mass: m, depth: d})))
  .concat(controlDense.map(([m, d]) => ({mass: m, depth: d})));
const fertPts = fertilized.concat(fertilizedDense).map(([m, d]) => ({mass: m, depth: d}));

const chart = Plot.plot({
  width: 550,
  height: 496,
  marginLeft: 48,
  marginRight: 13,
  marginTop: 10,
  marginBottom: 38,
  style: {fontFamily: "'Liberation Sans', Arial, sans-serif", fontSize: "10px", color: "#333", background: "white"},
  x: {domain: [-66, 1462]},
  y: {domain: [-0.05, 1.05], reverse: true},
  marks: [
    Plot.axisX({ticks: xTicks, tickSize: 4, tickPadding: 1, tickFormat: d3.format("d"), label: null, stroke: "#555"}),
    Plot.axisY({ticks: yTicks, tickSize: 4, tickPadding: 2, tickFormat: d3.format(".1f"), label: null, stroke: "#555"}),
    Plot.dot(controlPts, {x: "mass", y: "depth", r: 1.9, stroke: "#111", strokeWidth: 0.7, fill: "none"}),
    Plot.dot(fertPts, {x: "mass", y: "depth", symbol: "plus", r: 2.0, stroke: "#111", strokeWidth: 0.9}),
    Plot.frame({stroke: "#7a7a7a"}),
    Plot.text(["Relative Depth into Crown"], {text: d => d, frameAnchor: "left", dx: -31, rotate: -90, fontSize: 12, fill: "black"}),
    Plot.text(["Foliage Mass (g)"], {text: d => d, frameAnchor: "bottom", dy: 25, fontSize: 12, fill: "black"})
  ]
});

const wrap = document.getElementById("wrap");
wrap.appendChild(chart);

// Legend overlay
const ns = "http://www.w3.org/2000/svg";
const lg = document.createElementNS(ns, "svg");
lg.setAttribute("id", "legend");
lg.setAttribute("width", 550);
lg.setAttribute("height", 496);
lg.setAttribute("font-family", "'Liberation Sans', Arial, sans-serif");
lg.innerHTML = `
  <rect x="455.5" y="23.5" width="66" height="44" fill="white" stroke="#7a7a7a" stroke-width="1"/>
  <text x="459" y="36" font-size="9" fill="#111">Treatment:</text>
  <circle cx="466" cy="47.5" r="1.6" fill="none" stroke="#333" stroke-width="0.6"/>
  <text x="481" y="51" font-size="9" fill="#111">${treatments[0]}</text>
  <path d="M463.5,59.5h5M466,57v5" stroke="#333" stroke-width="0.8"/>
  <text x="481" y="63" font-size="9" fill="#111">${treatments[1]}</text>
`;
wrap.appendChild(lg);
</script>
</body>
</html>
